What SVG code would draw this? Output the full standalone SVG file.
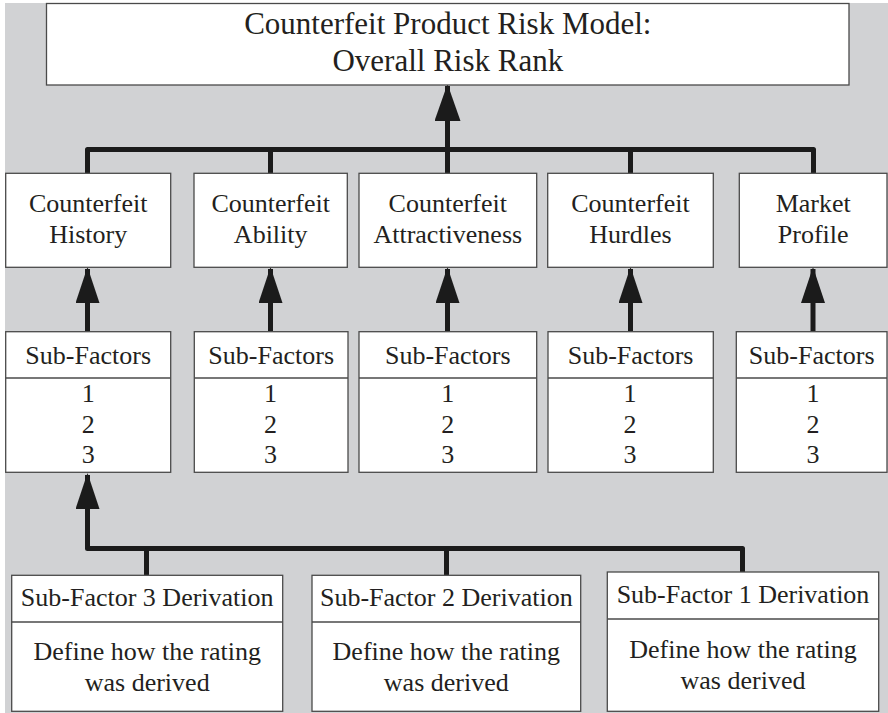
<svg xmlns="http://www.w3.org/2000/svg" width="888" height="713" viewBox="0 0 888 713">
<defs>
<style>
.box{fill:#ffffff;stroke:#4a4a4a;stroke-width:1.3}
.div{stroke:#4a4a4a;stroke-width:1.3;fill:none}
.t{font-family:"Liberation Serif","Times New Roman",serif;font-size:26px;fill:#231f20;text-anchor:middle}
.title{font-size:31px}
.c{fill:none;stroke:#1b1b1b;stroke-width:5;stroke-linejoin:round}
</style>
<marker id="ah" markerUnits="userSpaceOnUse" markerWidth="36" markerHeight="24" viewBox="0 0 36 24" refX="34" refY="12" orient="auto">
<path d="M0,0 L36,12 L0,24 Z" fill="#1b1b1b"/>
</marker>
<marker id="ahBig" markerUnits="userSpaceOnUse" markerWidth="37" markerHeight="26" viewBox="0 0 37 26" refX="35" refY="13" orient="auto">
<path d="M0,0 L37,13 L0,26 Z" fill="#1b1b1b"/>
</marker>
</defs>
<rect x="5" y="3" width="883" height="710" fill="#d1d2d4"/>

<g id="connectors">
<path class="c" d="M87.5,173 V149.5 H813.5 V173"/>
<path class="c" d="M270.5,149.5 V173"/>
<path class="c" d="M630.5,149.5 V173"/>
<path class="c" d="M447.5,173 V86" marker-end="url(#ahBig)"/>
<path class="c" d="M87.5,331 V269" marker-end="url(#ah)"/>
<path class="c" d="M270.5,331 V269" marker-end="url(#ah)"/>
<path class="c" d="M447.5,331 V269" marker-end="url(#ah)"/>
<path class="c" d="M630.5,331 V269" marker-end="url(#ah)"/>
<path class="c" d="M813,331 V269" marker-end="url(#ah)"/>
<path class="c" d="M742.5,572 V548.5 H87.5 V475" marker-end="url(#ah)"/>
<path class="c" d="M146.5,548.5 V575"/>
<path class="c" d="M446.5,548.5 V575"/>
</g>

<g id="title">
<rect class="box" x="46.5" y="3.5" width="802.5" height="81.5"/>
<text class="t title" x="447.8" y="33.5">Counterfeit Product Risk Model:</text>
<text class="t title" x="447.8" y="71">Overall Risk Rank</text>
</g>

<g id="history">
<rect class="box" x="5.7" y="173.3" width="165" height="94"/>
<text class="t" x="88.2" y="212.3">Counterfeit</text>
<text class="t" x="88.2" y="243.3">History</text>
</g>
<g id="ability">
<rect class="box" x="194" y="173.3" width="153.3" height="94"/>
<text class="t" x="270.7" y="212.3">Counterfeit</text>
<text class="t" x="270.7" y="243.3">Ability</text>
</g>
<g id="attractiveness">
<rect class="box" x="359" y="173.3" width="177.7" height="94"/>
<text class="t" x="447.8" y="212.3">Counterfeit</text>
<text class="t" x="447.8" y="243.3">Attractiveness</text>
</g>
<g id="hurdles">
<rect class="box" x="547.7" y="173.3" width="165.6" height="94"/>
<text class="t" x="630.5" y="212.3">Counterfeit</text>
<text class="t" x="630.5" y="243.3">Hurdles</text>
</g>
<g id="market">
<rect class="box" x="739.3" y="173.3" width="147.7" height="94"/>
<text class="t" x="813.2" y="212.3">Market</text>
<text class="t" x="813.2" y="243.3">Profile</text>
</g>

<g id="sub-history">
<rect class="box" x="5.7" y="331.7" width="165" height="140.6"/>
<line class="div" x1="5.7" y1="378" x2="170.7" y2="378"/>
<text class="t" x="88.2" y="363.5">Sub-Factors</text>
<text class="t" x="88.2" y="402.3">1</text>
<text class="t" x="88.2" y="432.8">2</text>
<text class="t" x="88.2" y="463.3">3</text>
</g>
<g id="sub-ability">
<rect class="box" x="194.3" y="331.7" width="153.7" height="140.6"/>
<line class="div" x1="194.3" y1="378" x2="348" y2="378"/>
<text class="t" x="271.2" y="363.5">Sub-Factors</text>
<text class="t" x="270.5" y="402.3">1</text>
<text class="t" x="270.5" y="432.8">2</text>
<text class="t" x="270.5" y="463.3">3</text>
</g>
<g id="sub-attractiveness">
<rect class="box" x="359" y="331.7" width="177.7" height="140.6"/>
<line class="div" x1="359" y1="378" x2="536.7" y2="378"/>
<text class="t" x="447.8" y="363.5">Sub-Factors</text>
<text class="t" x="447.8" y="402.3">1</text>
<text class="t" x="447.8" y="432.8">2</text>
<text class="t" x="447.8" y="463.3">3</text>
</g>
<g id="sub-hurdles">
<rect class="box" x="548" y="331.7" width="165.3" height="140.6"/>
<line class="div" x1="548" y1="378" x2="713.3" y2="378"/>
<text class="t" x="630.6" y="363.5">Sub-Factors</text>
<text class="t" x="630" y="402.3">1</text>
<text class="t" x="630" y="432.8">2</text>
<text class="t" x="630" y="463.3">3</text>
</g>
<g id="sub-market">
<rect class="box" x="736.3" y="331.7" width="150.7" height="140.6"/>
<line class="div" x1="736.3" y1="378" x2="887" y2="378"/>
<text class="t" x="811.7" y="363.5">Sub-Factors</text>
<text class="t" x="813" y="402.3">1</text>
<text class="t" x="813" y="432.8">2</text>
<text class="t" x="813" y="463.3">3</text>
</g>

<g id="derivation-3">
<rect class="box" x="11.7" y="575.3" width="271" height="136"/>
<line class="div" x1="11.7" y1="622" x2="282.7" y2="622"/>
<text class="t" x="147.2" y="606.3">Sub-Factor 3 Derivation</text>
<text class="t" x="147.2" y="660">Define how the rating</text>
<text class="t" x="147.2" y="690.5">was derived</text>
</g>
<g id="derivation-2">
<rect class="box" x="312" y="575.3" width="268.7" height="136"/>
<line class="div" x1="312" y1="622" x2="580.7" y2="622"/>
<text class="t" x="446.3" y="606.3">Sub-Factor 2 Derivation</text>
<text class="t" x="446.3" y="660">Define how the rating</text>
<text class="t" x="446.3" y="690.5">was derived</text>
</g>
<g id="derivation-1">
<rect class="box" x="607.3" y="572" width="271.4" height="139.3"/>
<line class="div" x1="607.3" y1="619" x2="878.7" y2="619"/>
<text class="t" x="743" y="603">Sub-Factor 1 Derivation</text>
<text class="t" x="743" y="658">Define how the rating</text>
<text class="t" x="743" y="688.7">was derived</text>
</g>
</svg>
